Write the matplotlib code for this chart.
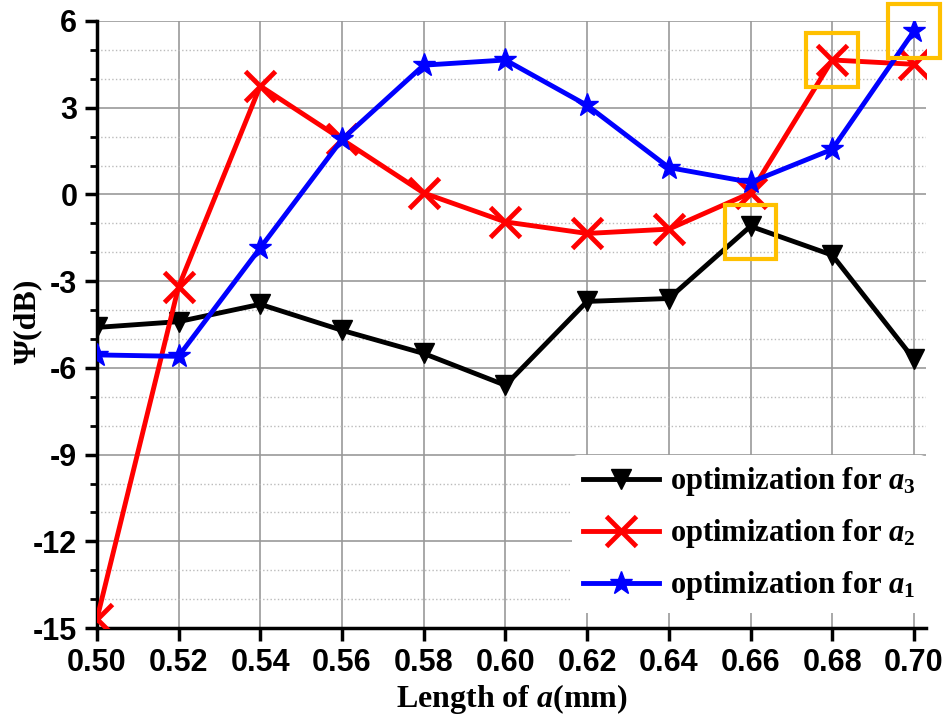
import numpy as np
import matplotlib.pyplot as plt
from matplotlib.patches import Rectangle
from matplotlib.ticker import MultipleLocator

plt.rcParams['mathtext.fontset'] = 'custom'
plt.rcParams['mathtext.rm'] = 'Liberation Serif:bold'
plt.rcParams['mathtext.it'] = 'Liberation Serif:bold:italic'
plt.rcParams['mathtext.bf'] = 'Liberation Serif:bold'
plt.rcParams['axes.unicode_minus'] = False

# data
length = [0.50, 0.52, 0.54, 0.56, 0.58, 0.60, 0.62, 0.64, 0.66, 0.68, 0.70]
psi_a3 = [-4.6, -4.4, -3.8, -4.7, -5.5, -6.6, -3.7, -3.6, -1.1, -2.1, -5.7]
psi_a2 = [-14.7, -3.2, 3.75, 1.9, 0.05, -0.95, -1.35, -1.2, 0.05, 4.65, 4.5]
psi_a1 = [-5.55, -5.6, -1.85, 1.9, 4.47, 4.65, 3.08, 0.93, 0.42, 1.56, 5.65]
labels = [r'optimization for $\mathit{a}_{3}$',
          r'optimization for $\mathit{a}_{2}$',
          r'optimization for $\mathit{a}_{1}$']
# highlighted points (series index, point index)
highlights = [(0, 8), (1, 9), (2, 10)]

fig = plt.figure(figsize=(9.49, 7.22), dpi=100)
ax = fig.add_axes([0.102, 0.130, 0.874, 0.841])

series = [psi_a3, psi_a2, psi_a1]
ax.plot(length, psi_a3, color='black', lw=3.5, marker='v', ms=14,
        label=labels[0], zorder=3)
ax.plot(length, psi_a2, color='red', lw=3.5, marker='x', ms=21, mew=3.5,
        label=labels[1], zorder=4)
ax.plot(length, psi_a1, color='blue', lw=3.5, marker='*', ms=17,
        label=labels[2], zorder=5)

for si, pi in highlights:
    xc, yc = length[pi], series[si][pi]
    if si == 0:
        yc -= 0.2  # box sits a bit low around the triangle
    w, h = 0.0127, 1.85
    ax.add_patch(Rectangle((xc - w / 2, yc - h / 2), w, h, fill=False,
                           ec='#FFC000', lw=3, zorder=6, clip_on=False))

ax.set_xlim(0.50, 0.703)
ax.set_ylim(-15, 6)
ax.set_xticks(np.arange(0.50, 0.701, 0.02))
ax.set_yticks(np.arange(-15, 6.1, 3))
ax.yaxis.set_minor_locator(MultipleLocator(1))
ax.grid(True, which='major', color='#999999', lw=1.2)
ax.grid(True, which='minor', axis='y', color='#bbbbbb', lw=1, ls=':')
ax.set_axisbelow(True)

for s in ['top', 'right']:
    ax.spines[s].set_visible(False)
for s in ['left', 'bottom']:
    ax.spines[s].set_linewidth(2.5)
ax.tick_params(which='major', direction='out', length=9, width=2.5, pad=5)
ax.tick_params(which='minor', direction='out', length=5, width=2)

ax.set_xticklabels([f'{v:.2f}' for v in ax.get_xticks()])
for t in ax.get_xticklabels() + ax.get_yticklabels():
    t.set_fontfamily('Liberation Sans')
    t.set_fontweight('bold')
    t.set_fontsize(22)

ax.set_xlabel(r'Length of $\mathit{a}$(mm)', family='Liberation Serif',
              fontweight='bold', fontsize=23)
ax.set_ylabel('Ψ(dB)', family='Liberation Serif', fontweight='bold',
              fontsize=23)
ax.xaxis.set_label_coords(0.5, -0.088)
ax.yaxis.set_label_coords(-0.066, 0.505)

leg = ax.legend(loc='lower right', bbox_to_anchor=(1.0, 0.025),
                prop={'family': 'Liberation Serif', 'weight': 'bold', 'size': 22},
                frameon=True, handlelength=2.5, borderpad=0.35, labelspacing=0.62,
                handletextpad=0.35, borderaxespad=0)
leg.get_frame().set_edgecolor('none')
leg.get_frame().set_facecolor('white')
leg.get_frame().set_alpha(1)
leg.set_zorder(7)

fig.savefig('out.png', dpi=100)
